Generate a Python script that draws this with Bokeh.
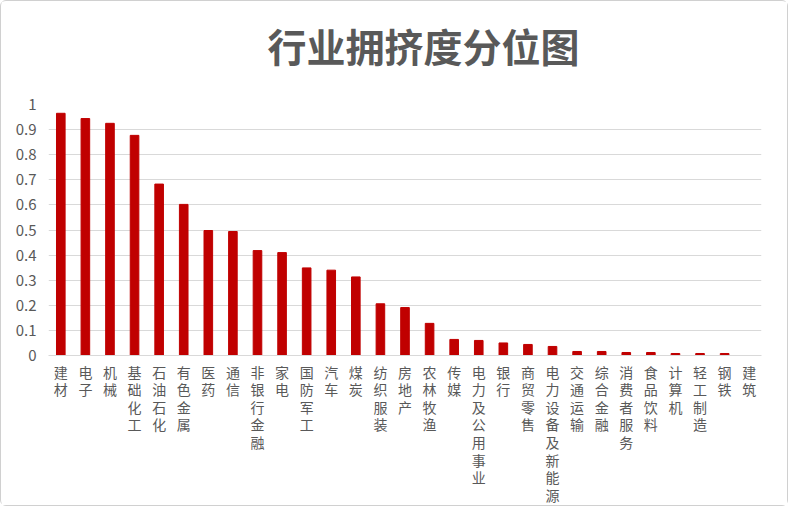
from bokeh.plotting import figure
from bokeh.models import ColumnDataSource, FixedTicker, Range1d, FactorRange, Title
from bokeh.embed import file_html
from bokeh.resources import INLINE

categories = ["建材", "电子", "机械", "基础化工", "石油石化", "有色金属", "医药", "通信",
              "非银行金融", "家电", "国防军工", "汽车", "煤炭", "纺织服装", "房地产",
              "农林牧渔", "传媒", "电力及公用事业", "银行", "商贸零售", "电力设备及新能源",
              "交通运输", "综合金融", "消费者服务", "食品饮料", "计算机", "轻工制造", "钢铁", "建筑"]
values = [0.965, 0.944, 0.925, 0.877, 0.683, 0.602, 0.498, 0.494, 0.418, 0.410, 0.349, 0.340,
          0.313, 0.206, 0.191, 0.128, 0.064, 0.060, 0.050, 0.044, 0.036, 0.016, 0.016, 0.012,
          0.012, 0.008, 0.008, 0.008, 0.0]
y_ticks = [0, 0.1, 0.2, 0.3, 0.4, 0.5, 0.6, 0.7, 0.8, 0.9, 1.0]
y_labels = ["0", "0.1", "0.2", "0.3", "0.4", "0.5", "0.6", "0.7", "0.8", "0.9", "1"]
title_text = "行业拥挤度分位图"

factors = ["\n".join(c) for c in categories]
source = ColumnDataSource(dict(x=factors, top=values))

FONT = "Noto Sans CJK SC"
TXT = "#595959"

p = figure(width=788, height=506, x_range=FactorRange(*factors, range_padding=0),
           y_range=Range1d(0, 1), output_backend="svg", toolbar_location=None,
           min_border_left=47, min_border_right=28, min_border_top=103, min_border_bottom=151)
p.x_range.factor_padding = 0
p.styles = {"border": "1.5px solid #d0d0d0", "border-radius": "6px"}

p.vbar(x="x", top="top", width=0.35, source=source, color="#c00000")

p.outline_line_color = None
p.xgrid.grid_line_color = None
p.ygrid.grid_line_color = "#d9d9d9"
p.ygrid.grid_line_width = 1
p.yaxis.ticker = FixedTicker(ticks=y_ticks)
p.yaxis.major_label_overrides = {t: l for t, l in zip(y_ticks, y_labels)}

for ax in (p.xaxis, p.yaxis):
    ax.axis_line_color = None
    ax.major_tick_line_color = None
    ax.minor_tick_line_color = None
    ax.major_label_text_font = FONT
    ax.major_label_text_color = TXT
    ax.major_label_text_font_size = "15px"

p.xaxis.axis_line_color = "#d9d9d9"
p.xaxis.major_label_text_font_size = "14px"
p.xaxis.major_label_standoff = 0
p.xaxis.major_label_text_line_height = 0.88
p.yaxis.major_label_standoff = 6

# spacer between title and plot area
p.add_layout(Title(text=" ", standoff=19, text_font_size="10px"), "above")
p.add_layout(Title(text=title_text, align="left", offset=219, standoff=0,
                   text_font=FONT, text_font_style="bold", text_font_size="39px",
                   text_color=TXT), "above")

open("out.html", "w").write(file_html(p, INLINE))
